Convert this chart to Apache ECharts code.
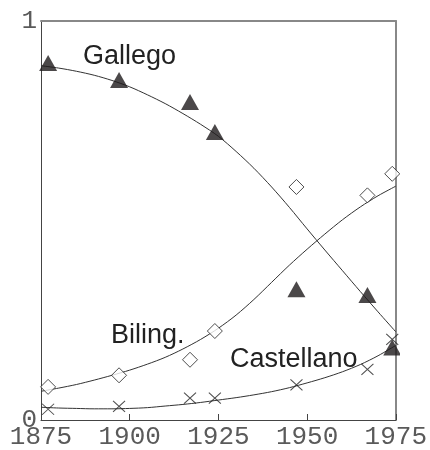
<!DOCTYPE html>
<html>
<head>
<meta charset="utf-8">
<script src="https://cdn.jsdelivr.net/npm/echarts@6/dist/echarts.min.js"></script>
<style>
html,body{margin:0;padding:0;background:#fff;}
#chart{width:430px;height:450px;}
</style>
</head>
<body>
<div id="chart"></div>
<script>
// Observed census years and shares
const obsYears = [1877, 1897, 1917, 1924, 1947, 1967, 1974];
const gallegoObs = [0.895, 0.852, 0.797, 0.722, 0.328, 0.313, 0.182];
const bilingObs = [0.083, 0.112, 0.151, 0.223, 0.584, 0.563, 0.617];
const castellanoObs = [0.027, 0.034, 0.055, 0.055, 0.088, 0.127, 0.202];

// Fitted curves, every 5 years
const curveYears = [1875, 1880, 1885, 1890, 1895, 1900, 1905, 1910, 1915, 1920, 1925,
                    1930, 1935, 1940, 1945, 1950, 1955, 1960, 1965, 1970, 1975];
const gallegoFit = [0.888, 0.882, 0.874, 0.864, 0.851, 0.835, 0.815, 0.793, 0.768, 0.741, 0.711,
                    0.673, 0.631, 0.584, 0.533, 0.479, 0.426, 0.374, 0.322, 0.271, 0.221];
const bilingFit = [0.072, 0.080, 0.089, 0.100, 0.112, 0.125, 0.140, 0.157, 0.178, 0.202, 0.230,
                   0.263, 0.302, 0.345, 0.388, 0.428, 0.466, 0.502, 0.534, 0.562, 0.586];
const castellanoFit = [0.032, 0.030, 0.029, 0.028, 0.028, 0.029, 0.031, 0.035, 0.039, 0.044, 0.050,
                       0.056, 0.063, 0.071, 0.081, 0.093, 0.106, 0.121, 0.139, 0.161, 0.187];

const xTicks = [1875, 1900, 1925, 1950, 1975];
const yTicks = [0, 1];

const seriesLabels = ['Gallego', 'Biling.', 'Castellano'];

const pairs = (xs, ys) => xs.map((x, i) => [x, ys[i]]);

const chart = echarts.init(document.getElementById('chart'));
const fitStyle = { color: '#333', width: 1 };
const tickFont = { fontFamily: 'Liberation Mono', fontSize: 26, color: '#5a5a5a' };

chart.setOption({
  animation: false,
  backgroundColor: '#fff',
  grid: { left: 41, top: 21, right: 32, bottom: 26 },
  xAxis: [{
    type: 'value', min: xTicks[0], max: xTicks[xTicks.length - 1], interval: 25,
    position: 'bottom',
    axisLine: { onZero: false, lineStyle: { color: '#444', width: 1 } },
    axisTick: { inside: true, length: 6, lineStyle: { color: '#444' } },
    axisLabel: Object.assign({ margin: 4, formatter: v => xTicks.includes(v) ? String(v) : '' }, tickFont),
    splitLine: { show: false }
  }, {
    type: 'value', min: xTicks[0], max: xTicks[xTicks.length - 1],
    position: 'top',
    axisLine: { show: true, onZero: false, lineStyle: { color: '#888', width: 2 } },
    axisTick: { show: false }, axisLabel: { show: false }, splitLine: { show: false }
  }],
  yAxis: [{
    type: 'value', min: yTicks[0], max: yTicks[1], interval: 1,
    position: 'left',
    axisLine: { show: true, onZero: false, lineStyle: { color: '#444', width: 1 } },
    axisTick: { show: false },
    axisLabel: Object.assign({ margin: 4 }, tickFont),
    splitLine: { show: false }
  }, {
    type: 'value', min: yTicks[0], max: yTicks[1],
    position: 'right',
    axisLine: { show: true, onZero: false, lineStyle: { color: '#888', width: 2 } },
    axisTick: { show: false }, axisLabel: { show: false }, splitLine: { show: false }
  }],
  series: [
    { type: 'line', data: pairs(curveYears, gallegoFit), smooth: 0.3, showSymbol: false, lineStyle: fitStyle, z: 2 },
    { type: 'line', data: pairs(curveYears, bilingFit), smooth: 0.3, showSymbol: false, lineStyle: fitStyle, z: 2 },
    { type: 'line', data: pairs(curveYears, castellanoFit), smooth: 0.3, showSymbol: false, lineStyle: fitStyle, z: 2 },
    { type: 'scatter', data: pairs(obsYears, gallegoObs), symbol: 'triangle', symbolSize: [18, 16],
      itemStyle: { color: '#1e1a1b' }, z: 3 },
    { type: 'scatter', data: pairs(obsYears, bilingObs), symbol: 'diamond', symbolSize: [15, 15],
      itemStyle: { color: '#fff', borderColor: '#222', borderWidth: 1 }, z: 3 },
    { type: 'scatter', data: pairs(obsYears, castellanoObs), symbol: 'path://M0,0L10,10M10,0L0,10', symbolSize: [12, 11],
      itemStyle: { color: 'none', borderColor: '#222', borderWidth: 1 }, z: 3 }
  ],
  graphic: [
    { type: 'rect', shape: { x: 400, y: 0, width: 30, height: 423 }, style: { fill: '#fff' }, z: 100, silent: true },
    { type: 'text', x: 83, y: 57, style: { text: seriesLabels[0], font: '27px "Liberation Sans"', fill: '#222', verticalAlign: 'middle' }, z: 101 },
    { type: 'text', x: 111, y: 336, style: { text: seriesLabels[1], font: '27px "Liberation Sans"', fill: '#222', verticalAlign: 'middle' }, z: 101 },
    { type: 'text', x: 230, y: 360, style: { text: seriesLabels[2], font: '27px "Liberation Sans"', fill: '#222', verticalAlign: 'middle' }, z: 101 }
  ]
});
</script>
</body>
</html>
